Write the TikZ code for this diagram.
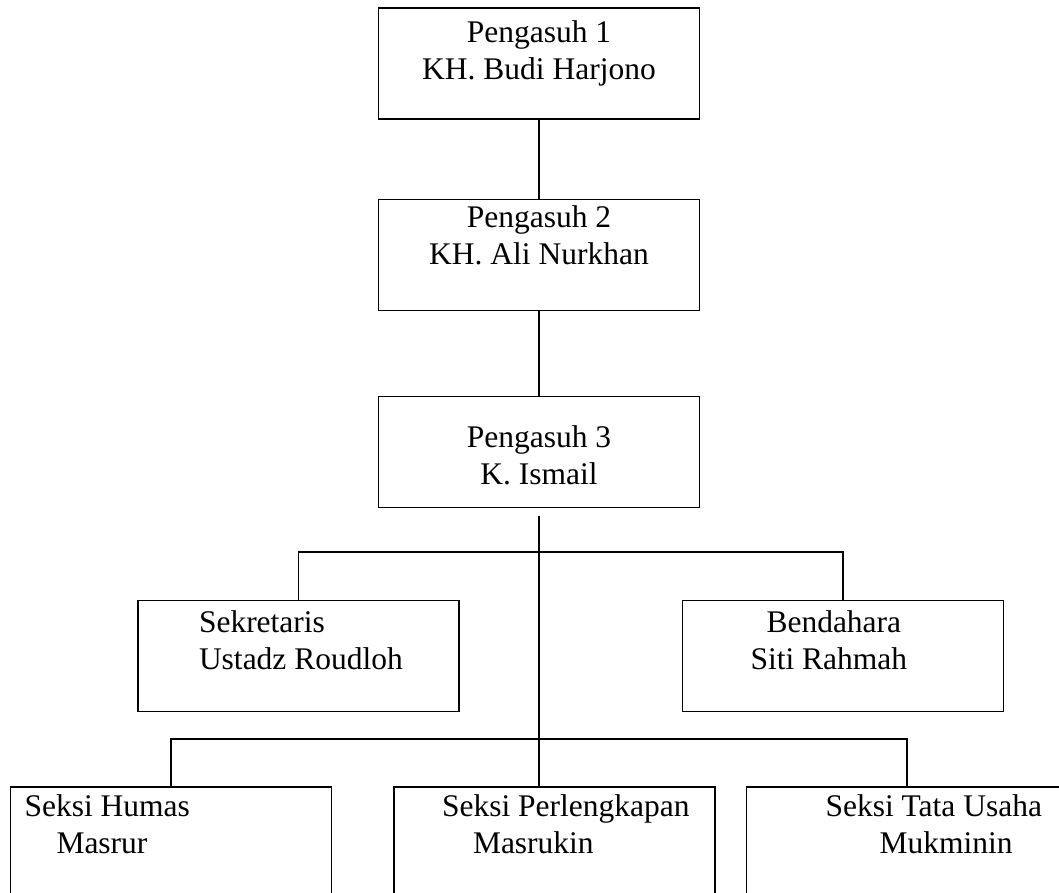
\documentclass[tikz,border=0pt]{standalone}
\usepackage{fontspec}
\setmainfont{Liberation Serif}

% isi kotak: tinggi baris pertama, lalu baris-baris teks
\newcommand{\isikotak}[2]{\parbox[c][111pt][t]{321pt}{\rule{0pt}{#1}#2}}

\tikzset{
  kotak/.style={draw, line width=1.9pt, inner sep=0pt},
  garis/.style={line width=1.9pt}
}

\begin{document}
\begin{tikzpicture}[x=1pt, y=-1pt, font=\fontsize{31.5}{37}\selectfont]
    \useasboundingbox (0,0) rectangle (1059,892);

    \node[kotak] (P1) at (539,63.5) {\isikotak{34pt}{\centering Pengasuh 1\\ KH. Budi Harjono}};
    \node[kotak] (P2) at (539,255) {\isikotak{28pt}{\centering Pengasuh 2\\ KH. Ali Nurkhan}};
    \node[kotak] (P3) at (539,452) {\isikotak{51pt}{\centering Pengasuh 3\\ K. Ismail}};

    \node[kotak] (Sek) at (298.5,656) {\isikotak{32pt}{\raggedright\hspace*{61pt}Sekretaris\\ \hspace*{61pt}Ustadz Roudloh}};
    \node[kotak] (Bend) at (843,656) {\isikotak{32pt}{\raggedright\hspace*{84pt}Bendahara\\ \hspace*{68pt}Siti Rahmah}};

    \node[kotak] (Humas) at (171,842.5) {\isikotak{29pt}{\raggedright\hspace*{14pt}Seksi Humas\\ \hspace*{46pt}Masrur}};
    \node[kotak] (Perl) at (554.5,842.5) {\isikotak{29pt}{\raggedright\hspace*{48pt}Seksi Perlengkapan\\ \hspace*{79pt}Masrukin}};
    \node[kotak] (Tata) at (907,842.5) {\isikotak{29pt}{\raggedright\hspace*{79pt}Seksi Tata Usaha\\ \hspace*{133pt}Mukminin}};

    \coordinate (pangkal) at (539,516);
    \coordinate (bus1) at (539,552);
    \coordinate (bus2) at (539,739);

    \draw[garis] (P1) -- (P2);
    \draw[garis] (P2) -- (P3);
    \draw[garis] (pangkal) -- (pangkal |- Perl.north);
    \draw[garis] (Sek.north) |- (bus1) -| (Bend.north);
    \draw[garis] (Humas.north) |- (bus2) -| (Tata.north);
\end{tikzpicture}
\end{document}
